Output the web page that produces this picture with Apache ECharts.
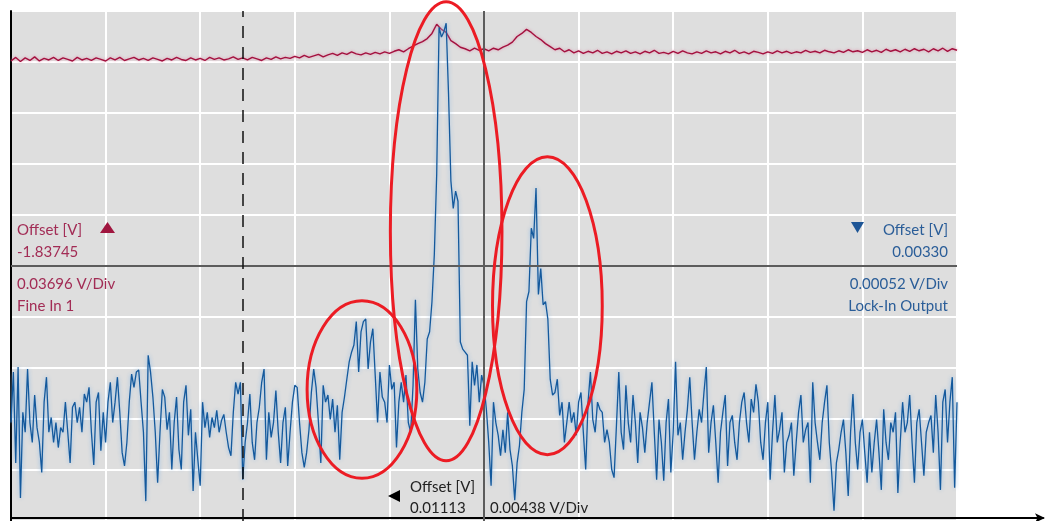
<!DOCTYPE html>
<html>
<head>
<meta charset="utf-8">
<script src="https://cdn.jsdelivr.net/npm/echarts@6/dist/echarts.min.js"></script>
<style>
  html, body { margin: 0; padding: 0; background: #fff; }
  #main { width: 1046px; height: 521px; }
</style>
</head>
<body>
<div id="main"></div>
<script>
// screen units: x 0..100 and y 0..100, 10 units per division
const lockInOutput = [
  19.3, 29.2, 11.4, 30.2, 4.5, 21.3, 17.4, 29.8, 19.3, 15.4, 24.7, 18.3, 15.4, 9.5, 23.3, 28.2, 17.4, 20.3, 15.4, 19.3,
  14.4, 18.3, 17.4, 23.3, 17.4, 11.4, 22.3, 23.3, 19.3, 22.3, 17.4, 24.9, 23.3, 26.2, 17.4, 11.0, 23.3, 25.2, 13.8, 21.3,
  15.4, 23.3, 27.2, 19.3, 23.3, 28.2, 21.3, 13.4, 10.8, 15.4, 23.3, 28.8, 26.2, 29.2, 29.6, 23.3, 17.4, 3.9, 32.5, 29.2,
  24.3, 17.4, 7.5, 17.4, 25.8, 24.3, 17.9, 21.3, 10.1, 19.3, 24.3, 14.0, 10.1, 23.3, 26.6, 16.8, 21.9, 5.9, 17.4, 12.0,
  6.9, 23.3, 18.3, 21.3, 16.4, 20.3, 18.3, 21.7, 17.4, 19.7, 20.9, 17.4, 14.4, 12.8, 21.3, 27.2, 24.9, 27.2, 8.1, 15.4,
  19.3, 24.9, 15.4, 12.0, 19.3, 22.3, 27.2, 29.8, 12.0, 21.3, 16.4, 19.3, 25.6, 17.4, 11.4, 19.3, 22.3, 10.8, 17.4, 23.3,
  26.6, 26.2, 19.3, 13.4, 10.5, 13.4, 17.9, 25.2, 29.8, 26.2, 19.3, 11.4, 26.6, 23.3, 24.7, 19.9, 23.9, 17.4, 22.7, 12.0,
  21.3, 24.3, 27.8, 31.2, 33.1, 34.5, 39.1, 29.2, 37.1, 39.1, 39.6, 29.8, 35.1, 37.7, 28.6, 19.3, 29.2, 24.3, 23.3, 19.3,
  30.6, 25.8, 27.2, 14.4, 23.3, 27.2, 23.3, 28.6, 19.3, 17.4, 26.6, 43.4, 29.8, 25.2, 23.3, 27.2, 35.7, 37.1, 43.0, 52.3,
  68.0, 96.8, 94.9, 95.9, 97.6, 83.8, 66.7, 61.3, 64.7, 62.7, 35.1, 33.7, 33.1, 32.5, 18.7, 31.2, 26.6, 30.6, 23.3, 28.6,
  26.6, 21.9, 15.4, 6.9, 23.3, 19.3, 16.8, 12.8, 17.9, 13.4, 21.3, 14.0, 10.8, 4.1, 11.4, 14.8, 21.3, 25.8, 43.0, 45.0,
  57.4, 55.4, 65.3, 44.4, 49.5, 42.4, 43.0, 39.6, 27.8, 24.7, 25.2, 27.8, 20.7, 23.3, 15.4, 19.3, 23.3, 19.3, 21.3, 16.8,
  23.3, 25.2, 17.4, 10.1, 23.3, 29.2, 19.9, 17.4, 23.3, 21.9, 21.3, 15.4, 17.9, 15.4, 10.1, 8.5, 18.7, 29.2, 17.4, 14.0,
  26.6, 19.3, 15.4, 24.7, 19.3, 11.4, 21.3, 18.3, 13.4, 19.3, 23.3, 27.2, 17.4, 8.1, 19.9, 15.4, 7.9, 19.3, 23.9, 9.5,
  17.4, 31.2, 16.8, 19.3, 12.0, 17.4, 21.9, 28.2, 19.3, 12.0, 17.4, 21.9, 19.3, 25.2, 30.2, 13.4, 19.3, 22.7, 15.4, 7.5,
  17.4, 21.3, 24.7, 10.8, 19.3, 20.7, 15.4, 12.0, 19.3, 23.3, 25.2, 19.3, 15.4, 23.9, 21.3, 26.8, 23.3, 15.4, 12.0, 19.3,
  23.3, 8.1, 17.4, 24.7, 15.4, 17.9, 21.3, 9.5, 15.4, 16.8, 19.3, 8.9, 15.4, 21.3, 24.7, 15.4, 17.9, 19.3, 7.5, 27.2,
  19.3, 15.4, 12.0, 19.3, 23.3, 26.6, 15.4, 9.5, 2.0, 11.4, 14.0, 17.4, 19.9, 13.4, 4.9, 17.4, 24.9, 15.4, 10.1, 17.4,
  19.9, 13.4, 7.5, 17.4, 9.5, 15.4, 19.9, 13.4, 6.1, 21.9, 15.4, 12.0, 19.3, 17.4, 21.3, 5.5, 15.4, 23.3, 17.4, 19.3,
  24.7, 15.4, 7.5, 19.3, 21.9, 15.4, 8.9, 17.4, 19.3, 20.7, 13.4, 24.7, 17.4, 6.1, 23.3, 25.8, 15.4, 23.3, 28.2, 6.5,
  23.3
];

const fineIn1 = [
  90.2, 90.9, 90.1, 90.8, 90.3, 91.0, 90.2, 90.7, 90.4, 90.9,
  90.3, 90.8, 90.5, 90.2, 90.9, 90.4, 90.7, 90.3, 90.8, 90.5,
  90.2, 90.8, 90.4, 90.9, 90.3, 90.6, 90.9, 90.4, 90.7, 90.3,
  90.8, 90.5, 90.2, 90.7, 90.4, 90.9, 90.5, 90.3, 90.8, 90.4,
  90.7, 90.3, 90.9, 90.5, 90.8, 90.4, 90.6, 91.0, 90.5, 90.8,
  90.4, 90.9, 90.6, 90.3, 90.8, 90.5, 91.0, 90.6, 90.9, 90.7,
  91.1, 90.8, 91.3, 90.9, 91.2, 91.5, 91.0, 91.4, 91.7, 91.3,
  91.8, 91.5, 92.0, 91.6, 91.4, 91.8, 91.5, 91.9, 91.6, 92.0,
  91.7, 92.1, 92.4, 92.0, 92.6, 93.1, 93.6, 94.0, 94.6, 95.6,
  97.4, 96.4, 95.8, 94.2, 93.6, 92.9, 92.6, 92.2, 92.7, 92.3,
  92.6, 92.2, 92.7, 92.4, 92.9, 93.3, 93.9, 95.0, 95.6, 96.4,
  95.8, 95.0, 94.4, 93.6, 93.0, 92.4, 92.7, 92.0, 92.4, 91.8,
  92.2, 91.7, 92.1, 91.8, 92.3, 91.7, 92.0, 91.6, 92.1, 91.8,
  92.2, 91.7, 92.0, 91.6, 92.1, 91.8, 92.3, 91.7, 91.9, 91.6,
  92.1, 91.7, 92.2, 91.8, 91.6, 92.0, 91.7, 92.2, 91.8, 92.0,
  91.6, 92.1, 91.8, 92.3, 91.7, 92.0, 91.6, 92.1, 91.9, 91.6,
  92.0, 91.7, 92.2, 91.8, 92.1, 91.7, 92.0, 91.8, 92.3, 91.9,
  92.1, 91.8, 92.3, 92.0, 91.8, 92.2, 91.9, 92.4, 92.0, 92.2,
  91.9, 92.4, 92.0, 92.3, 91.9, 92.5, 92.1, 92.4, 92.0, 92.5,
  92.1, 92.6, 92.2, 92.5, 92.0, 92.6, 92.2, 92.7, 92.1, 92.6, 92.3
];

// cursors: center lines and dashed marker
const centerX = 50;
const centerY = 50;
const cursorX = 24.5;

// red annotation ellipses [cx, cy, rx, ry]
const ellipses = [
  [37.1, 25.8, 5.8, 17.4],
  [46.0, 56.8, 5.9, 45.0],
  [56.7, 42.2, 5.8, 29.2]
];

const redText = '#a22c55';
const blueText = '#2a5d98';
const font = '15px Lato';

function toXY(arr) {
  return arr.map(function (v, i) {
    return [i * 100 / (arr.length - 1), v];
  });
}

let chart = echarts.init(document.getElementById('main'));

let option = {
  animation: false,
  grid: [
    {
      left: 11, top: 11, width: 946, height: 510,
      show: true, backgroundColor: '#dedede', borderWidth: 0
    },
    { left: 11, top: 11, right: 3, height: 507 }
  ],
  xAxis: [
    {
      type: 'value', gridIndex: 0, min: 0, max: 100, interval: 10,
      axisLine: { show: false }, axisTick: { show: false }, axisLabel: { show: false },
      splitLine: { show: true, lineStyle: { color: '#ffffff', width: 2 } }
    },
    {
      type: 'value', gridIndex: 1, min: 0, max: 1,
      axisLine: {
        show: true, symbol: ['none', 'arrow'], symbolSize: [7, 10], symbolOffset: [0, 2],
        lineStyle: { color: '#000', width: 2 }
      },
      axisTick: { show: false }, axisLabel: { show: false }, splitLine: { show: false }
    }
  ],
  yAxis: [
    {
      type: 'value', gridIndex: 0, min: 0, max: 100, interval: 10,
      axisLine: { show: true, lineStyle: { color: '#000', width: 2 } },
      axisTick: { show: false }, axisLabel: { show: false },
      splitLine: { show: true, lineStyle: { color: '#ffffff', width: 2 } }
    },
    { type: 'value', gridIndex: 1, show: false }
  ],
  series: [
    {
      name: 'cursors',
      type: 'line',
      data: [],
      z: 1,
      markLine: {
        silent: true,
        symbol: 'none',
        label: { show: false },
        data: [
          { xAxis: centerX, lineStyle: { color: '#5c5c5c', width: 2, type: 'solid' } },
          { yAxis: centerY, lineStyle: { color: '#5c5c5c', width: 2, type: 'solid' } },
          { xAxis: cursorX, lineStyle: { color: '#111', width: 1.5, type: [12, 9] } }
        ]
      }
    },
    {
      name: 'Fine In 1',
      type: 'line',
      data: toXY(fineIn1),
      showSymbol: false,
      z: 3,
      lineStyle: {
        color: '#a3113f', width: 1.4,
        shadowColor: 'rgba(225,130,160,0.8)', shadowBlur: 3
      }
    },
    {
      name: 'Lock-In Output',
      type: 'line',
      data: toXY(lockInOutput),
      showSymbol: false,
      z: 4,
      lineStyle: {
        color: '#14599c', width: 1.3,
        shadowColor: 'rgba(140,185,230,0.95)', shadowBlur: 4
      }
    },
    {
      name: 'marks',
      type: 'custom',
      data: ellipses,
      z: 6,
      clip: false,
      encode: { x: 0, y: 1 },
      renderItem: function (params, api) {
        let c = api.coord([api.value(0), api.value(1)]);
        let s = api.size([api.value(2), api.value(3)]);
        return {
          type: 'ellipse',
          shape: { cx: c[0], cy: c[1], rx: s[0], ry: s[1] },
          style: { fill: 'none', stroke: '#ec1c24', lineWidth: 3 }
        };
      }
    }
  ],
  graphic: [
    { type: 'text', x: 17, y: 230, z: 10, style: { text: 'Offset [V]', fill: redText, font: font, verticalAlign: 'middle' } },
    { type: 'polygon', z: 10, shape: { points: [[100, 233], [115, 233], [107.5, 222]] }, style: { fill: '#a0163f' } },
    { type: 'text', x: 17, y: 252, z: 10, style: { text: '-1.83745', fill: redText, font: font, verticalAlign: 'middle' } },
    { type: 'text', x: 17, y: 284, z: 10, style: { text: '0.03696 V/Div', fill: redText, font: font, verticalAlign: 'middle' } },
    { type: 'text', x: 17, y: 306, z: 10, style: { text: 'Fine In 1', fill: redText, font: font, verticalAlign: 'middle' } },

    { type: 'text', x: 948, y: 230, z: 10, style: { text: 'Offset [V]', fill: blueText, font: font, align: 'right', verticalAlign: 'middle' } },
    { type: 'polygon', z: 10, shape: { points: [[851, 222], [864, 222], [857.5, 233]] }, style: { fill: '#1d5596' } },
    { type: 'text', x: 948, y: 252, z: 10, style: { text: '0.00330', fill: blueText, font: font, align: 'right', verticalAlign: 'middle' } },
    { type: 'text', x: 948, y: 284, z: 10, style: { text: '0.00052 V/Div', fill: blueText, font: font, align: 'right', verticalAlign: 'middle' } },
    { type: 'text', x: 948, y: 306, z: 10, style: { text: 'Lock-In Output', fill: blueText, font: font, align: 'right', verticalAlign: 'middle' } },

    { type: 'polygon', z: 10, shape: { points: [[388, 496], [400, 490], [400, 502]] }, style: { fill: '#000' } },
    { type: 'text', x: 410, y: 487, z: 10, style: { text: 'Offset [V]', fill: '#222', font: font, verticalAlign: 'middle' } },
    { type: 'text', x: 410, y: 508, z: 10, style: { text: '0.01113', fill: '#222', font: font, verticalAlign: 'middle' } },
    { type: 'text', x: 490, y: 508, z: 10, style: { text: '0.00438 V/Div', fill: '#222', font: font, verticalAlign: 'middle' } }
  ]
};

option && chart.setOption(option);
</script>
</body>
</html>
